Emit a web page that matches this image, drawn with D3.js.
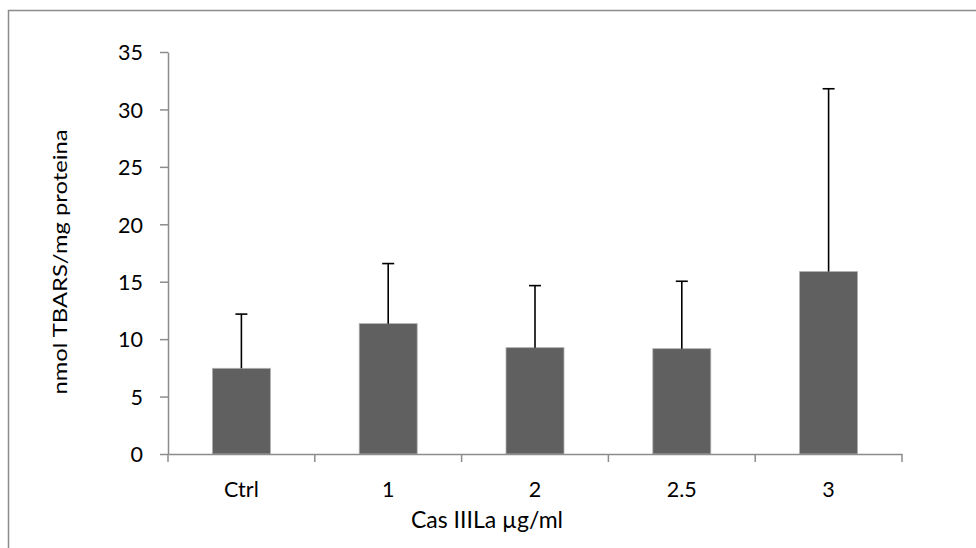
<!DOCTYPE html>
<html><head><meta charset="utf-8">
<script src="https://cdn.jsdelivr.net/npm/d3@7"></script>
<style>body{margin:0;background:#fff}svg{display:block}text{font-family:Lato,"Noto Sans",sans-serif;fill:#000}</style>
</head><body><svg id="c" width="976" height="548"></svg>
<script>
const categories = ["Ctrl", "1", "2", "2.5", "3"];
const means = [7.46, 11.35, 9.26, 9.17, 15.88];
const errTops = [12.18, 16.58, 14.66, 15.04, 31.8];
const yTicks = [0, 5, 10, 15, 20, 25, 30, 35];
const xTitle = "Cas IIILa µg/ml";
const yTitle = "nmol TBARS/mg proteina";

const svg = d3.select("#c");
const L = 168, R = 902, T = 52, B = 454;
const x = d3.scaleBand().domain(categories).range([L, R]).padding(0);
const y = d3.scaleLinear().domain([0, 35]).range([B, T]);

// chart frame
svg.append("path").attr("d", "M8.5,548 V10.5 H976").attr("fill", "none").attr("stroke", "#8c8c8c").attr("stroke-width", 1.5);

const bw = x.bandwidth() * 0.395;
svg.selectAll("rect.bar").data(categories).join("rect")
  .attr("class", "bar")
  .attr("x", d => x(d) + x.bandwidth() / 2 - bw / 2)
  .attr("y", (d, i) => y(means[i]))
  .attr("width", bw)
  .attr("height", (d, i) => y(0) - y(means[i]))
  .attr("fill", "#606060").attr("stroke", "#b0b0b0").attr("stroke-width", 0.8);

// error bars
const eg = svg.append("g").attr("stroke", "#000").attr("stroke-width", 1.6);
categories.forEach((c, i) => {
  const cx = x(c) + x.bandwidth() / 2;
  eg.append("line").attr("x1", cx).attr("x2", cx).attr("y1", y(means[i])).attr("y2", y(errTops[i]));
  eg.append("line").attr("x1", cx - 6).attr("x2", cx + 6).attr("y1", y(errTops[i])).attr("y2", y(errTops[i]));
});

// y axis
const ya = svg.append("g").attr("transform", `translate(${L},0)`)
  .call(d3.axisLeft(y).tickValues(yTicks).tickSize(8).tickSizeOuter(0).tickPadding(17));
ya.select(".domain").attr("stroke", "#8c8c8c").attr("stroke-width", 1.5);
ya.selectAll(".tick line").attr("stroke", "#8c8c8c").attr("stroke-width", 1.5);
ya.selectAll(".tick text").attr("font-size", 21.5).attr("font-family", "Lato").attr("dy", "0.36em");

// x axis
const xa = svg.append("g").attr("transform", `translate(0,${B})`)
  .call(d3.axisBottom(x).tickSize(0).tickSizeOuter(0).tickPadding(43));
xa.select(".domain").attr("stroke", "#8c8c8c").attr("stroke-width", 1.5);
xa.selectAll(".tick text").attr("font-size", 21.5).attr("font-family", "Lato").attr("dy", 0);
// category boundary ticks
const bounds = categories.map(c => x(c)).concat([R]);
svg.append("g").selectAll("line").data(bounds).join("line")
  .attr("x1", d => d).attr("x2", d => d).attr("y1", B).attr("y2", B + 8)
  .attr("stroke", "#8c8c8c").attr("stroke-width", 1.5);

svg.append("text").attr("x", 487).attr("y", 528).attr("text-anchor", "middle")
  .attr("font-size", 24).attr("textLength", 152).attr("lengthAdjust", "spacingAndGlyphs").text(xTitle);
svg.append("text").attr("transform", "translate(67,262) scale(0.78,1) rotate(-90)").attr("text-anchor", "middle")
  .attr("font-size", 24).attr("textLength", 265).attr("lengthAdjust", "spacingAndGlyphs").text(yTitle);
</script></body></html>
